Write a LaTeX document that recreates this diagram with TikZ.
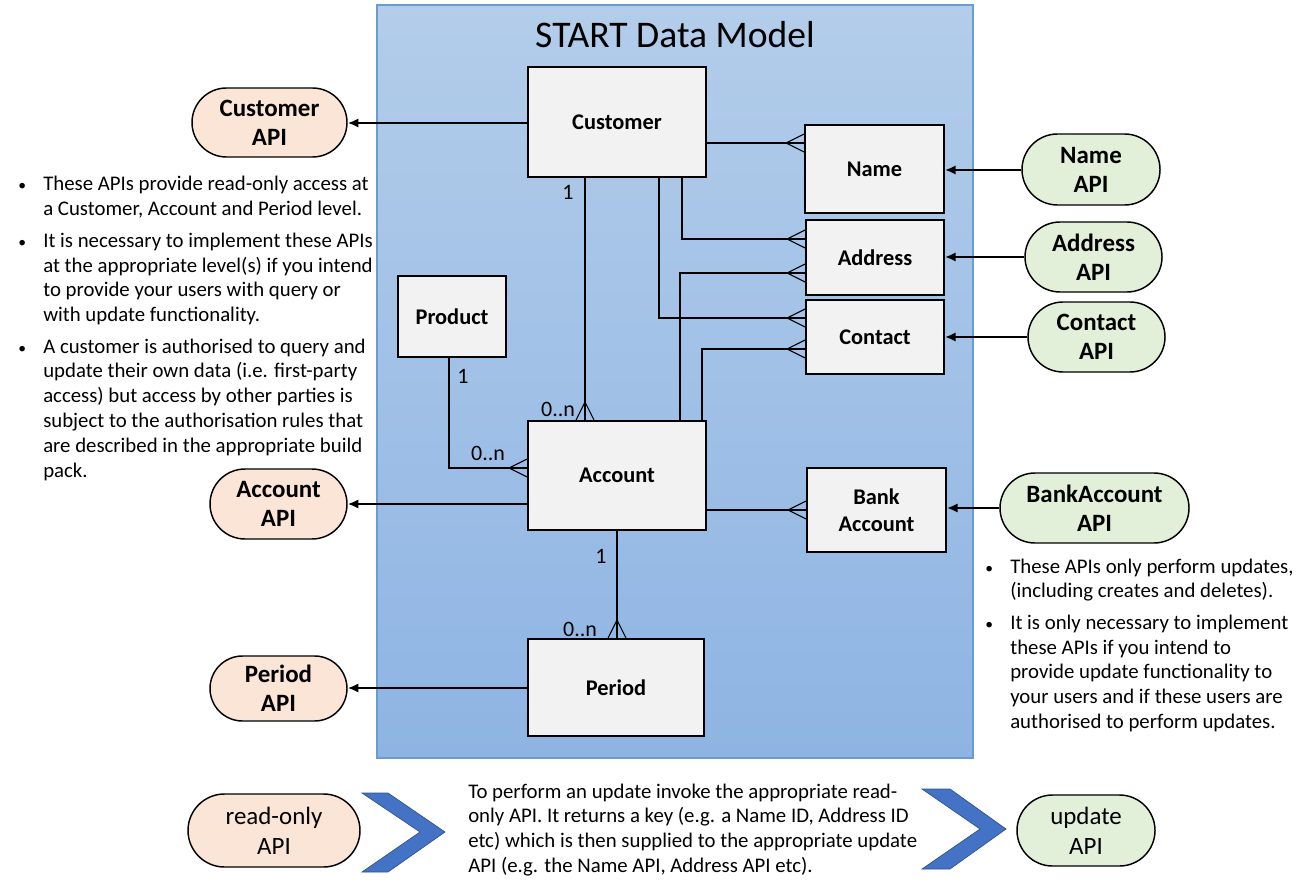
\documentclass[tikz,border=0pt]{standalone}
\usepackage{fontspec}
\setmainfont{Carlito}
\usetikzlibrary{arrows.meta,shapes.misc,decorations.markings}

\definecolor{paneltop}{HTML}{B3CDEA}
\definecolor{panelbot}{HTML}{8EB4E3}
\definecolor{paneledge}{HTML}{6C9BD2}
\definecolor{boxgray}{HTML}{F2F2F2}
\definecolor{peach}{HTML}{FBE5D6}
\definecolor{mint}{HTML}{E2F0D9}
\definecolor{chevblue}{HTML}{4472C4}
\definecolor{chevedge}{HTML}{2F528F}

\newcommand{\dotmark}{\scalebox{0.75}{\textbullet}}

\tikzset{
    entity/.style = {
        draw,
        line width=1.4pt,
        fill=boxgray,
        align=center,
        inner sep=0pt,
        font=\bfseries\fontsize{16.8}{20}\selectfont
    },
    api/.style = {
        draw,
        rounded rectangle,
        line width=1.1pt,
        align=center,
        inner sep=0pt,
        font=\bfseries\fontsize{18.7}{21.75}\selectfont
    },
    readapi/.style = {
        api,
        fill=peach
    },
    updapi/.style = {
        api,
        fill=mint
    },
    feed/.style = {
        -{Latex[length=8pt,width=7pt]},
        line width=1.5pt
    },
    erline/.style = {
        line width=0.8pt
    },
    crow/.style = {
        postaction={decorate},
        decoration={markings, mark=at position 1 with {
            \draw[line width=0.8pt] (-13.5pt,0) -- (0,6.75pt) (-13.5pt,0) -- (0,-6.75pt);}}
    },
    card/.style = {
        inner sep=0pt,
        font=\fontsize{16.5}{20}\selectfont
    },
    note/.style = {
        anchor=base west,
        inner sep=0pt,
        font=\fontsize{15.6}{18.6}\selectfont
    },
    chevron/.style = {
        fill=chevblue,
        draw=chevedge,
        line width=0.5pt
    }
}

\begin{document}
\begin{tikzpicture}[x=0.75pt,y=-0.75pt]
    \useasboundingbox (0,0) rectangle (1312,891);

    % Draw panel and title
    \shade[top color=paneltop, bottom color=panelbot, draw=paneledge, line width=0.8pt] (377,5) rectangle (973,758);
    \node[font=\fontsize{28.2}{33}\selectfont] (title) at (675,35) {START Data Model};

    % Draw all entities
    \node[entity, minimum width=133.5pt, minimum height=82.5pt]  (customer) at (617,122)   {Customer};
    \node[entity, minimum width=104.25pt, minimum height=66pt]   (name)     at (874.5,169) {Name};
    \node[entity, minimum width=103.5pt, minimum height=56.25pt] (address)  at (875,257.5) {Address};
    \node[entity, minimum width=103.5pt, minimum height=55.5pt]  (contact)  at (875,337)   {Contact};
    \node[entity, minimum width=81pt, minimum height=60.75pt]    (product)  at (452,316.5) {Product};
    \node[entity, minimum width=133.5pt, minimum height=81.75pt] (account)  at (617,475.5) {Account};
    \node[entity, minimum width=104.25pt, minimum height=63pt]   (bank)     at (876.5,510) {Bank\\Account};
    \node[entity, minimum width=132pt, minimum height=72.75pt]   (period)   at (616,687.5) {Period};

    % Draw relations
    \draw[erline, crow] (customer.south -| 585,0) -- (account.north -| 585,0);
    \draw[erline, crow] (customer.east |- 0,143) -- (name.west |- 0,143);
    \draw[erline, crow] (customer.south -| 682,0) |- (address.west |- 0,239);
    \draw[erline, crow] (customer.south -| 659,0) |- (contact.west |- 0,318);
    \draw[erline, crow] (account.north -| 680,0) |- (address.west |- 0,273);
    \draw[erline, crow] (account.north -| 702,0) |- (contact.west |- 0,349);
    \draw[erline, crow] (product.south -| 449,0) |- (account.west |- 0,468);
    \draw[erline, crow] (account.east |- 0,510) -- (bank.west |- 0,510);
    \draw[erline, crow] (account.south -| 617,0) -- (period.north -| 617,0);

    % Draw cardinalities
    \node[card] (custone)   at (568,192) {1};
    \node[card] (accmany)   at (558,409) {0..n};
    \node[card] (prodone)   at (463,376) {1};
    \node[card] (prodmany)  at (488,453) {0..n};
    \node[card] (accone)    at (601,556) {1};
    \node[card] (permany)   at (580,629) {0..n};

    % Draw read-only APIs
    \node[readapi, minimum width=116.25pt, minimum height=51.75pt] (custapi) at (269.5,122.5) {Customer\\API};
    \node[readapi, minimum width=102.75pt, minimum height=52.5pt]  (accapi)  at (278.5,504)   {Account\\API};
    \node[readapi, minimum width=102.75pt, minimum height=48.75pt] (perapi)  at (278.5,688.5) {Period\\API};

    \draw[feed] (customer.west |- 0,123) -- (custapi.east |- 0,123);
    \draw[feed] (account.west |- 0,504) -- (accapi.east |- 0,504);
    \draw[feed] (period.west |- 0,688) -- (perapi.east |- 0,688);

    % Draw update APIs
    \node[updapi, minimum width=103.5pt, minimum height=53.25pt]  (nameapi) at (1091,169.5) {Name\\API};
    \node[updapi, minimum width=102.75pt, minimum height=52.5pt]  (addrapi) at (1093.5,257) {Address\\API};
    \node[updapi, minimum width=102.75pt, minimum height=52.5pt]  (contapi) at (1096.5,337) {Contact\\API};
    \node[updapi, minimum width=141.75pt, minimum height=52.5pt]  (bankapi) at (1094.5,508) {BankAccount\\API};

    \draw[feed] (nameapi.west |- 0,170) -- (name.east |- 0,170);
    \draw[feed] (addrapi.west |- 0,257) -- (address.east |- 0,257);
    \draw[feed] (contapi.west |- 0,337) -- (contact.east |- 0,337);
    \draw[feed] (bankapi.west |- 0,508) -- (bank.east |- 0,508);

    % Draw notes
    \node[note] (readnote) at (18,191) {\begin{tabular}[t]{@{}p{18.75pt}@{}l@{}}
        \dotmark & These APIs provide read-only access at\\
                 & a Customer, Account and Period level.\\[5pt]
        \dotmark & It is necessary to implement these APIs\\
                 & at the appropriate level(s) if you intend\\
                 & to provide your users with query or\\
                 & with update functionality.\\[5pt]
        \dotmark & A customer is authorised to query and\\
                 & update their own data (i.e. first-party\\
                 & access) but access by other parties is\\
                 & subject to the authorisation rules that\\
                 & are described in the appropriate build\\
                 & pack.
    \end{tabular}};
    \node[note] (updnote) at (985,573) {\begin{tabular}[t]{@{}p{18.75pt}@{}l@{}}
        \dotmark & These APIs only perform updates,\\
                 & (including creates and deletes).\\[5pt]
        \dotmark & It is only necessary to implement\\
                 & these APIs if you intend to\\
                 & provide update functionality to\\
                 & your users and if these users are\\
                 & authorised to perform updates.
    \end{tabular}};

    % Draw legend
    \node[readapi, font=\fontsize{18.7}{22.5}\selectfont, minimum width=129pt, minimum height=54.75pt] (readkey) at (274,830.5) {read-only\\API};
    \node[updapi, font=\fontsize{18.7}{22.5}\selectfont, minimum width=103.5pt, minimum height=53.25pt] (updkey) at (1086,830.5) {update\\API};
    \filldraw[chevron] (362,793) -- (388,793) -- (445,832) -- (388,872) -- (362,872) -- (420,832) -- cycle;
    \filldraw[chevron] (922,789) -- (950,789) -- (1006,829) -- (950,869) -- (922,869) -- (980,829) -- cycle;
    \node[note] (flownote) at (468,798) {\begin{tabular}[t]{@{}l@{}}
        To perform an update invoke the appropriate read-\\
        only API. It returns a key (e.g. a Name ID, Address ID\\
        etc) which is then supplied to the appropriate update\\
        API (e.g. the Name API, Address API etc).
    \end{tabular}};
\end{tikzpicture}
\end{document}
